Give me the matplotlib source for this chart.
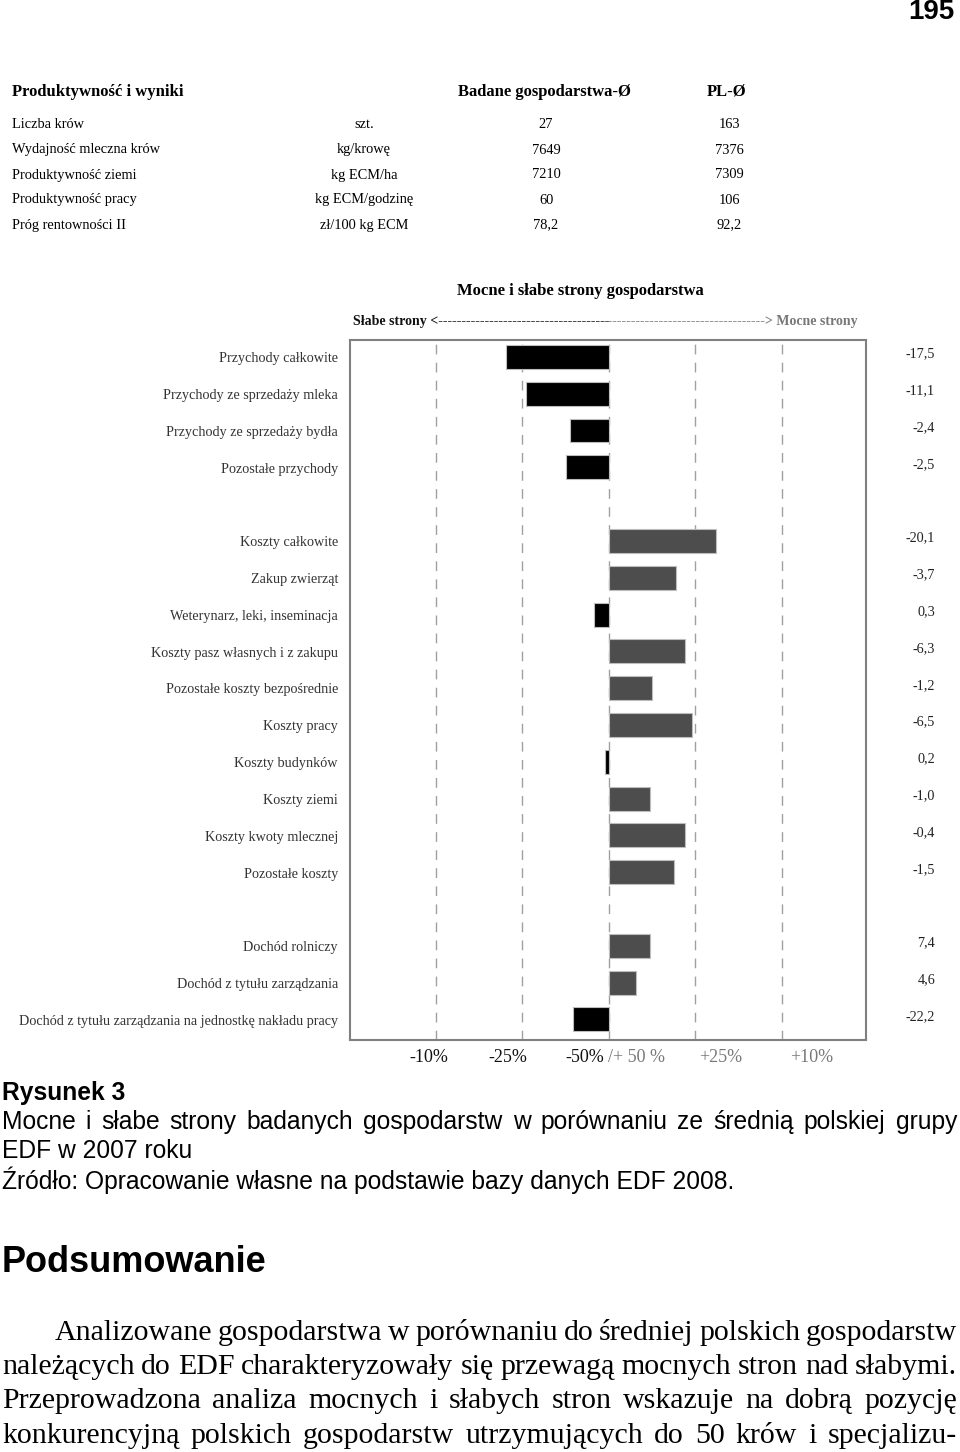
import matplotlib
matplotlib.use("Agg")
import matplotlib.pyplot as plt
import matplotlib.transforms as mtransforms

W, H = 960, 1452
SERIF = "Liberation Serif"
SANS = "Liberation Sans"

# ---------------- data ----------------
page_number = "195"
table_header = ["Produktywność i wyniki", "Badane gospodarstwa-Ø", "PL-Ø"]
table_rows = ["Liczba krów", "Wydajność mleczna krów", "Produktywność ziemi",
              "Produktywność pracy", "Próg rentowności II"]
table_units = ["szt.", "kg/krowę", "kg ECM/ha", "kg ECM/godzinę", "zł/100 kg ECM"]
farm_values = ["27", "7649", "7210", "60", "78,2"]
pl_values = ["163", "7376", "7309", "106", "92,2"]

chart_title = "Mocne i słabe strony gospodarstwa"
categories = ["Przychody całkowite", "Przychody ze sprzedaży mleka",
              "Przychody ze sprzedaży bydła", "Pozostałe przychody",
              "Koszty całkowite", "Zakup zwierząt", "Weterynarz, leki, inseminacja",
              "Koszty pasz własnych i z zakupu", "Pozostałe koszty bezpośrednie",
              "Koszty pracy", "Koszty budynków", "Koszty ziemi",
              "Koszty kwoty mlecznej", "Pozostałe koszty",
              "Dochód rolniczy", "Dochód z tytułu zarządzania",
              "Dochód z tytułu zarządzania na jednostkę nakładu pracy"]
slots = [0, 1, 2, 3, 5, 6, 7, 8, 9, 10, 11, 12, 13, 14, 16, 17, 18]
bar_positions = [-1.19, -0.96, -0.45, -0.50, 1.24, 0.77, -0.17, 0.885, 0.50,
                 0.96, -0.04, 0.475, 0.88, 0.75, 0.48, 0.31, -0.42]
value_labels = ["-17,5", "-11,1", "-2,4", "-2,5", "-20,1", "-3,7", "0,3", "-6,3",
                "-1,2", "-6,5", "0,2", "-1,0", "-0,4", "-1,5", "7,4", "4,6", "-22,2"]
grid_positions = [-2, -1, 0, 1, 2]
axis_labels = ["-10%", "-25%", "-50%", "/+ 50 %", "+25%", "+10%"]
axis_label_pos = [-2.08, -1.17, -0.05, -0.01, 1.29, 2.34]

caption_lines = ["Mocne i słabe strony badanych gospodarstw w porównaniu ze średnią polskiej grupy",
                 "EDF w 2007 roku",
                 "Źródło: Opracowanie własne na podstawie bazy danych EDF 2008."]
section_title = "Podsumowanie"
paragraph_lines = ["Analizowane gospodarstwa w porównaniu do średniej polskich gospodarstw",
                   "należących do EDF charakteryzowały się przewagą mocnych stron nad słabymi.",
                   "Przeprowadzona analiza mocnych i słabych stron wskazuje na dobrą pozycję",
                   "konkurencyjną polskich gospodarstw utrzymujących do 50 krów i specjalizu-"]

# ---------------- figure ----------------
fig = plt.figure(figsize=(W / 100, H / 100), dpi=100)
fig.patch.set_facecolor("white")
renderer = fig.canvas.get_renderer()


def P(x, y):
    return x / W, 1 - y / H


def ftext(x, y, s, **kw):
    return fig.text(*P(x, y), s, **kw)


def justified(line, x0, x1, y, va="baseline", **kw):
    words = line.split()
    texts, widths = [], []
    for w in words:
        t = fig.text(0, 0, w, ha="left", va=va, **kw)
        widths.append(t.get_window_extent(renderer=renderer).width)
        texts.append(t)
    gap = (x1 - x0 - sum(widths)) / max(len(words) - 1, 1)
    x = x0
    for t, w in zip(texts, widths):
        t.set_position(P(x, y))
        x += w + gap


# page number
ftext(955, 12, page_number, ha="right", va="center", family=SANS,
      fontweight="bold", fontsize=20)

# table
ftext(12, 92, table_header[0], ha="left", va="center", family=SERIF,
      fontweight="bold", fontsize=12)
ftext(545, 92, table_header[1], ha="center", va="center", family=SERIF,
      fontweight="bold", fontsize=12)
ftext(727, 92, table_header[2], ha="center", va="center", family=SERIF,
      fontweight="bold", fontsize=12)
row_y = [124, 150, 175, 200, 225]
for i, y in enumerate(row_y):
    ftext(12, y, table_rows[i], ha="left", va="center", family=SERIF, fontsize=10.4)
    ftext(364, y, table_units[i], ha="center", va="center", family=SERIF, fontsize=10.4)
    ftext(546, y, farm_values[i], ha="center", va="center", family=SERIF, fontsize=10.4)
    ftext(729, y, pl_values[i], ha="center", va="center", family=SERIF, fontsize=10.4)

# chart title and direction line
ftext(580, 291, chart_title, ha="center", va="center", family=SERIF,
      fontweight="bold", fontsize=12)
ftext(353, 322, "Słabe strony <" + "-" * 37, ha="left", va="center", family=SERIF,
      fontweight="bold", fontsize=10, color="#111111")
ftext(858, 322, "-" * 35 + "> Mocne strony", ha="right", va="center", family=SERIF,
      fontweight="bold", fontsize=10, color="#777777")

# chart axes
left, right, top, bottom = 350, 866, 340, 1040
ax = fig.add_axes([left / W, 1 - bottom / H, (right - left) / W, (bottom - top) / H])
ax.set_xlim(-2.99, 2.97)
ax.set_ylim(18.56, -0.46)
ax.set_xticks([])
ax.set_yticks([])
for sp in ax.spines.values():
    sp.set_color("#808080")
    sp.set_linewidth(1.5)

for g in grid_positions:
    ax.axvline(g, color="#a0a0a0", linewidth=1.0, linestyle=(0, (7, 6)), zorder=1)

colors = ["#000000" if v < 0 else "#4d4d4d" for v in bar_positions]
ax.barh(slots, bar_positions, height=0.65, color=colors, edgecolor="#bdbdbd",
        linewidth=0.8, zorder=3)

tr = mtransforms.blended_transform_factory(fig.transFigure, ax.transData)
for s, lab, val in zip(slots, categories, value_labels):
    ax.text(338 / W, s + 0.05, lab, transform=tr, ha="right", va="center",
            family=SERIF, fontsize=10.2, color="#333333", clip_on=False)
    ax.text(935 / W, s - 0.08, val, transform=tr, ha="right", va="center",
            family=SERIF, fontsize=10.2, color="#222222", clip_on=False)

# x-axis category labels
trx = mtransforms.blended_transform_factory(ax.transData, fig.transFigure)
ha_list = ["center", "center", "right", "left", "center", "center"]
col_list = ["#111111", "#111111", "#111111", "#777777", "#777777", "#777777"]
for lab, pos, ha, c in zip(axis_labels, axis_label_pos, ha_list, col_list):
    ax.text(pos, 1 - 1057 / H, lab, transform=trx, ha=ha, va="center",
            family=SERIF, fontsize=13, color=c, clip_on=False)

# caption
ftext(2, 1093, "Rysunek 3", ha="left", va="center", family=SANS,
      fontweight="bold", fontsize=17.7)
justified(caption_lines[0], 2, 957, 1122, va="center", family=SANS, fontsize=17.7)
for i, line in enumerate(caption_lines[1:], start=1):
    ftext(2, 1122 + 29 * i, line, ha="left", va="center", family=SANS, fontsize=17.7)

ftext(2, 1262, section_title, ha="left", va="center", family=SANS,
      fontweight="bold", fontsize=26)

# justified paragraph
para_base = [1340, 1374, 1408, 1443]
for i, line in enumerate(paragraph_lines):
    x0 = 55 if i == 0 else 2
    justified(line, x0, 957, para_base[i], family=SERIF, fontsize=21.5)

fig.savefig("out.png", dpi=100, facecolor="white")
